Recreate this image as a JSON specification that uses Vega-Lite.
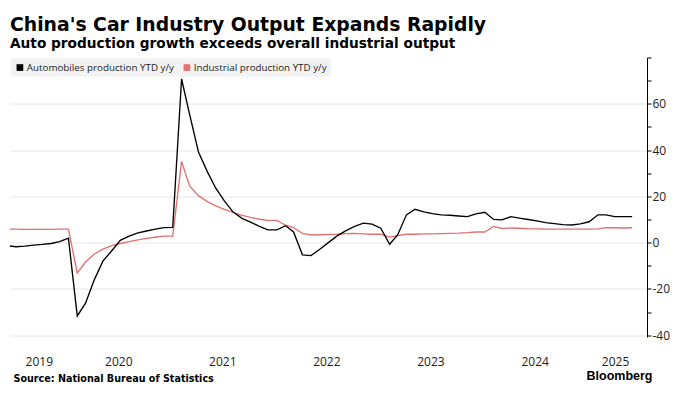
{
  "$schema": "https://vega.github.io/schema/vega-lite/v6.json",
  "width": 637,
  "height": 279.5,
  "autosize": {"type": "none"},
  "padding": {"left": 10, "top": 57.5, "right": 53, "bottom": 57},
  "background": "#ffffff",
  "title": {
    "text": "China's Car Industry Output Expands Rapidly",
    "subtitle": "Auto production growth exceeds overall industrial output",
    "anchor": "start",
    "frame": "group",
    "font": "DejaVu Sans",
    "fontSize": 18.8,
    "fontWeight": "bold",
    "color": "#000000",
    "subtitleFont": "DejaVu Sans",
    "subtitleFontSize": 13.7,
    "subtitleFontWeight": "bold",
    "subtitleColor": "#000000",
    "subtitlePadding": 3,
    "offset": 6
  },
  "data": {
    "values": [
      {"d": "2019-06-01", "auto": -1.3, "industrial": 5.8},
      {"d": "2019-07-01", "auto": -1.8, "industrial": 5.8},
      {"d": "2019-08-01", "auto": -1.5, "industrial": 5.7},
      {"d": "2019-09-01", "auto": -1.1, "industrial": 5.7},
      {"d": "2019-10-01", "auto": -0.8, "industrial": 5.7},
      {"d": "2019-11-01", "auto": -0.4, "industrial": 5.7},
      {"d": "2019-12-01", "auto": 0.4, "industrial": 5.8},
      {"d": "2020-01-01", "auto": 1.9, "industrial": 5.8},
      {"d": "2020-02-01", "auto": -31.7, "industrial": -13.2},
      {"d": "2020-03-01", "auto": -26.2, "industrial": -8.4},
      {"d": "2020-04-01", "auto": -16.0, "industrial": -4.9},
      {"d": "2020-05-01", "auto": -8.0, "industrial": -2.8},
      {"d": "2020-06-01", "auto": -3.5, "industrial": -1.3},
      {"d": "2020-07-01", "auto": 1.0, "industrial": -0.4},
      {"d": "2020-08-01", "auto": 2.8, "industrial": 0.4},
      {"d": "2020-09-01", "auto": 4.2, "industrial": 1.2},
      {"d": "2020-10-01", "auto": 5.0, "industrial": 1.8},
      {"d": "2020-11-01", "auto": 5.8, "industrial": 2.3},
      {"d": "2020-12-01", "auto": 6.5, "industrial": 2.8},
      {"d": "2021-01-01", "auto": 6.6, "industrial": 2.8},
      {"d": "2021-02-01", "auto": 70.7, "industrial": 35.1},
      {"d": "2021-03-01", "auto": 55.5, "industrial": 24.5},
      {"d": "2021-04-01", "auto": 39.3, "industrial": 20.3},
      {"d": "2021-05-01", "auto": 31.0, "industrial": 17.8},
      {"d": "2021-06-01", "auto": 23.5, "industrial": 15.9},
      {"d": "2021-07-01", "auto": 18.0, "industrial": 14.4},
      {"d": "2021-08-01", "auto": 13.2, "industrial": 13.1},
      {"d": "2021-09-01", "auto": 10.5, "industrial": 11.8},
      {"d": "2021-10-01", "auto": 8.8, "industrial": 10.9},
      {"d": "2021-11-01", "auto": 7.0, "industrial": 10.1},
      {"d": "2021-12-01", "auto": 5.5, "industrial": 9.6},
      {"d": "2022-01-01", "auto": 5.5, "industrial": 9.6},
      {"d": "2022-02-01", "auto": 7.3, "industrial": 7.5},
      {"d": "2022-03-01", "auto": 4.6, "industrial": 6.5},
      {"d": "2022-04-01", "auto": -5.3, "industrial": 4.0},
      {"d": "2022-05-01", "auto": -5.6, "industrial": 3.3},
      {"d": "2022-06-01", "auto": -2.9, "industrial": 3.4},
      {"d": "2022-07-01", "auto": 0.0, "industrial": 3.5},
      {"d": "2022-08-01", "auto": 2.9, "industrial": 3.6},
      {"d": "2022-09-01", "auto": 5.2, "industrial": 3.9},
      {"d": "2022-10-01", "auto": 7.0, "industrial": 4.0},
      {"d": "2022-11-01", "auto": 8.4, "industrial": 3.8},
      {"d": "2022-12-01", "auto": 8.0, "industrial": 3.6},
      {"d": "2023-01-01", "auto": 6.2, "industrial": 3.6},
      {"d": "2023-02-01", "auto": -0.7, "industrial": 2.4},
      {"d": "2023-03-01", "auto": 3.3, "industrial": 3.0},
      {"d": "2023-04-01", "auto": 12.0, "industrial": 3.6},
      {"d": "2023-05-01", "auto": 14.4, "industrial": 3.6},
      {"d": "2023-06-01", "auto": 13.3, "industrial": 3.8},
      {"d": "2023-07-01", "auto": 12.5, "industrial": 3.8},
      {"d": "2023-08-01", "auto": 12.0, "industrial": 3.9},
      {"d": "2023-09-01", "auto": 11.8, "industrial": 4.0},
      {"d": "2023-10-01", "auto": 11.5, "industrial": 4.1},
      {"d": "2023-11-01", "auto": 11.2, "industrial": 4.3},
      {"d": "2023-12-01", "auto": 12.4, "industrial": 4.6},
      {"d": "2024-01-01", "auto": 13.1, "industrial": 4.6},
      {"d": "2024-02-01", "auto": 10.0, "industrial": 7.0},
      {"d": "2024-03-01", "auto": 9.8, "industrial": 6.1},
      {"d": "2024-04-01", "auto": 11.2, "industrial": 6.3},
      {"d": "2024-05-01", "auto": 10.6, "industrial": 6.2},
      {"d": "2024-06-01", "auto": 10.0, "industrial": 6.0},
      {"d": "2024-07-01", "auto": 9.4, "industrial": 5.9},
      {"d": "2024-08-01", "auto": 8.6, "industrial": 5.8},
      {"d": "2024-09-01", "auto": 8.2, "industrial": 5.8},
      {"d": "2024-10-01", "auto": 7.8, "industrial": 5.8},
      {"d": "2024-11-01", "auto": 7.6, "industrial": 5.8},
      {"d": "2024-12-01", "auto": 8.1, "industrial": 5.8},
      {"d": "2025-01-01", "auto": 9.0, "industrial": 5.8},
      {"d": "2025-02-01", "auto": 12.0, "industrial": 5.9},
      {"d": "2025-03-01", "auto": 12.0, "industrial": 6.5},
      {"d": "2025-04-01", "auto": 11.2, "industrial": 6.4},
      {"d": "2025-05-01", "auto": 11.2, "industrial": 6.3},
      {"d": "2025-06-01", "auto": 11.2, "industrial": 6.4}
    ]
  },
  "transform": [
    {"fold": ["industrial", "auto"], "as": ["series", "value"]}
  ],
  "mark": {"type": "line", "strokeWidth": 1.35, "clip": true, "interpolate": "linear"},
  "encoding": {
    "x": {
      "field": "d",
      "type": "temporal",
      "scale": {
        "type": "utc",
        "domain": [
          {"year": 2019, "month": 6, "date": 10, "utc": true},
          {"year": 2025, "month": 7, "date": 23, "utc": true}
        ]
      },
      "axis": {
        "values": [
          {"year": 2019, "month": 9, "date": 19, "utc": true},
          {"year": 2020, "month": 6, "date": 24, "utc": true},
          {"year": 2021, "month": 6, "date": 24, "utc": true},
          {"year": 2022, "month": 6, "date": 24, "utc": true},
          {"year": 2023, "month": 6, "date": 24, "utc": true},
          {"year": 2024, "month": 6, "date": 24, "utc": true},
          {"year": 2025, "month": 4, "date": 2, "utc": true}
        ],
        "labelExpr": "utcFormat(datum.value, '%Y')",
        "domain": false,
        "ticks": false,
        "grid": false,
        "labelFont": "Open Sans",
        "labelFontSize": 12,
        "labelColor": "#222222",
        "labelBaseline": "alphabetic",
        "labelPadding": 28,
        "labelFlush": false,
        "labelOverlap": false,
        "title": "Source: National Bureau of Statistics",
        "titleFont": "DejaVu Sans",
        "titleFontSize": 9.6,
        "titleFontWeight": "bold",
        "titleColor": "#000000",
        "titleAnchor": "start",
        "titleAlign": "left",
        "titleBaseline": "alphabetic",
        "titleX": 3,
        "titleY": 44
      }
    },
    "y": {
      "field": "value",
      "type": "quantitative",
      "scale": {"domain": [-40.8, 80], "nice": false, "zero": false},
      "axis": {
        "orient": "right",
        "values": [-40, -30, -20, -10, 0, 10, 20, 30, 40, 50, 60, 70, 80],
        "labelExpr": "datum.value % 20 === 0 && datum.value < 80 ? datum.value : ''",
        "gridColor": {"condition": {"test": "datum.value % 20 === 0 && datum.value < 80", "value": "#e6e6e6"}, "value": "rgba(0,0,0,0)"},
        "gridWidth": 1,
        "domainColor": "#000000",
        "domainWidth": 1,
        "tickColor": "#000000",
        "tickSize": 4,
        "labelPadding": 1,
        "labelFont": "Open Sans",
        "labelFontSize": 12,
        "labelColor": "#222222",
        "title": "Bloomberg",
        "titleAngle": 0,
        "titleFont": "Liberation Sans",
        "titleFontSize": 12.5,
        "titleFontWeight": "bold",
        "titleColor": "#000000",
        "titleAlign": "right",
        "titleBaseline": "alphabetic",
        "titleX": 5,
        "titleY": 321.5
      }
    },
    "color": {
      "field": "series",
      "type": "nominal",
      "scale": {"domain": ["auto", "industrial"], "range": ["#000000", "#e0716f"]},
      "legend": {
        "title": null,
        "orient": "top-left",
        "direction": "horizontal",
        "offset": 1,
        "fillColor": "#f2f2f2",
        "padding": 4,
        "symbolType": "square",
        "symbolSize": 45,
        "labelFont": "Open Sans",
        "labelFontSize": 9.8,
        "labelColor": "#222222",
        "labelOffset": 2,
        "columnPadding": 8,
        "labelExpr": "datum.label == 'auto' ? 'Automobiles production YTD y/y' : 'Industrial production YTD y/y'",
        "encode": {
          "symbols": {"update": {"fill": {"scale": "color", "field": "value"}, "strokeWidth": {"value": 0}}}
        }
      }
    }
  },
  "config": {
    "view": {"stroke": null},
    "font": "Open Sans"
  }
}
